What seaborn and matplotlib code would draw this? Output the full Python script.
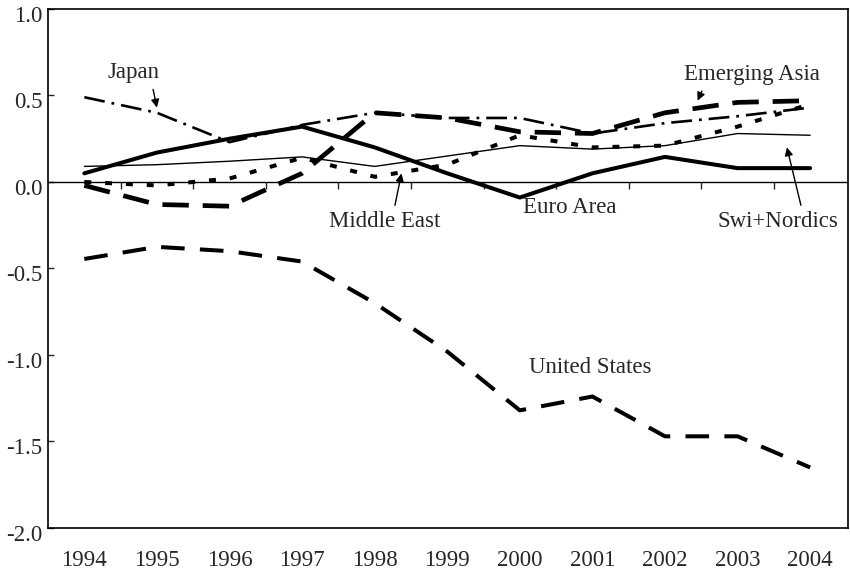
import numpy as np
import pandas as pd
import matplotlib
matplotlib.use('Agg')
import matplotlib.pyplot as plt
import matplotlib.transforms as mtransforms
import seaborn as sns

# Data
years = list(range(1994, 2005))
euro_area = [0.05, 0.17, 0.25, 0.32, 0.20, 0.05, -0.09, 0.05, 0.145, 0.08, 0.08]
swi_nordics = [0.09, 0.10, 0.12, 0.145, 0.09, 0.15, 0.21, 0.19, 0.21, 0.28, 0.27]
middle_east = [0.0, -0.02, 0.02, 0.14, 0.03, 0.10, 0.27, 0.20, 0.21, 0.32, 0.45]
japan = [0.49, 0.40, 0.23, 0.33, 0.40, 0.37, 0.37, 0.28, 0.34, 0.38, 0.43]
emerging_asia = [-0.02, -0.13, -0.14, 0.05, 0.40, 0.37, 0.29, 0.28, 0.40, 0.46, 0.47]
united_states = [-0.445, -0.375, -0.40, -0.46, -0.70, -0.98, -1.32, -1.24, -1.47, -1.47, -1.65]

df = pd.DataFrame({'year': years, 'Euro Area': euro_area, 'Swi+Nordics': swi_nordics,
                   'Middle East': middle_east, 'Japan': japan,
                   'Emerging Asia': emerging_asia, 'United States': united_states})

sns.set_style('ticks')
plt.rcParams['font.family'] = ['Liberation Serif', 'DejaVu Serif']
plt.rcParams['axes.unicode_minus'] = False
plt.rcParams['lines.scale_dashes'] = False

fig = plt.figure(figsize=(8.5, 5.71), dpi=100)
ax = fig.add_axes([0.0565, 0.0753, 0.941, 0.909])

# line styles (dash lengths in points)
styles = {
    'United States': dict(lw=2.9, ls=(0, (17, 11))),
    'Euro Area': dict(lw=2.9, ls='-'),
    'Swi+Nordics': dict(lw=1.0, ls='-'),
    'Middle East': dict(lw=2.9, ls=(0, (5, 10))),
    'Japan': dict(lw=1.9, ls=(0, (15, 5, 2, 5))),
    'Emerging Asia': dict(lw=3.4, ls=(0, (19, 10))),
}
for name, st in styles.items():
    sns.lineplot(data=df, x='year', y=name, ax=ax, color='black',
                 linewidth=st['lw'], linestyle=st['ls'])

ax.axhline(0, color='black', lw=1.0, zorder=1)

ax.set_xlim(1993.5, 2004.52)
ax.set_ylim(-2.0, 1.0)
ax.set_xticks(years)
ax.set_yticks(np.arange(-2.0, 1.01, 0.5))
ax.yaxis.set_major_formatter(matplotlib.ticker.FormatStrFormatter('%.1f'))
ax.tick_params(axis='x', length=0, pad=16, labelsize=16.5)
ax.tick_params(axis='y', length=4, width=1, direction='in', labelsize=16.5, pad=4)
ax.set_xlabel('')
ax.set_ylabel('')
for sp in ax.spines.values():
    sp.set_linewidth(1.2)
    sp.set_color('black')

# y labels sit a little below their ticks in the original
offset = mtransforms.ScaledTranslation(0, -5 / 100, fig.dpi_scale_trans)
for lab in ax.get_yticklabels():
    lab.set_transform(lab.get_transform() + offset)

# small ticks on the zero line between the years
sec = ax.secondary_xaxis(2 / 3)
sec.set_xticks([y + 0.5 for y in years[:-1]])
sec.tick_params(direction='in', length=5, width=1, labelbottom=False, labeltop=False)
sec.spines['bottom'].set_visible(False)
sec.spines['top'].set_visible(False)

fs = 16.5
arrow = dict(arrowstyle='-|>', color='black', lw=1.0, shrinkB=0, mutation_scale=12)
ax.annotate('Japan', xy=(1995.0, 0.43), xytext=(1994.68, 0.63), ha='center', va='center',
            fontsize=fs, arrowprops=dict(arrow, shrinkA=2, relpos=(0.85, 0.0)))
ax.annotate('Emerging Asia', xy=(2002.45, 0.47), xytext=(2003.2, 0.62), ha='center', va='center',
            fontsize=fs, arrowprops=dict(arrow, shrinkA=2, relpos=(0.15, 0.0)))
ax.annotate('Middle East', xy=(1998.37, 0.05), xytext=(1998.14, -0.23), ha='center', va='center',
            fontsize=fs, arrowprops=dict(arrow, shrinkA=2, relpos=(0.58, 1.0)))
ax.annotate('Swi+Nordics', xy=(2003.68, 0.20), xytext=(2003.56, -0.23), ha='center', va='center',
            fontsize=fs, arrowprops=dict(arrow, shrinkA=2, relpos=(0.7, 1.0)))
ax.text(2000.69, -0.15, 'Euro Area', ha='center', va='center', fontsize=fs)
ax.text(2000.97, -1.07, 'United States', ha='center', va='center', fontsize=fs)

fig.savefig('out.png', dpi=100)
